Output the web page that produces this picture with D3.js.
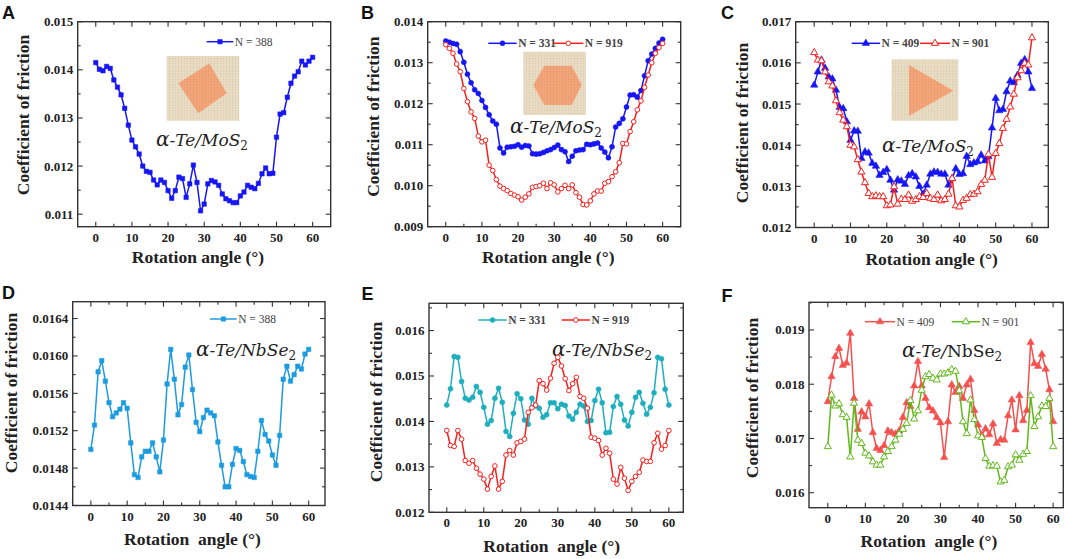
<!DOCTYPE html>
<html>
<head>
<meta charset="utf-8">
<script src="https://cdn.jsdelivr.net/npm/d3@7"></script>
<style>
  body { margin: 0; background: #fff; }
  svg { display: block; }
  .sf { font-family: "Liberation Serif", "Times New Roman", Times, serif; }
</style>
</head>
<body>
<svg id="fig" width="1065" height="559"></svg>
<script>
// rotation angles (deg), shared by every series
const angles = [0,1,2,3,4,5,6,7,8,9,10,11,12,13,14,15,16,17,18,19,20,21,22,23,24,25,26,27,28,29,30,
  31,32,33,34,35,36,37,38,39,40,41,42,43,44,45,46,47,48,49,50,51,52,53,54,55,56,57,58,59,60]

// A: Te/MoS2 square flake
const A_388 = [0.01415,0.01401,0.01398,0.01407,0.01403,0.01379,0.01364,0.01348,0.0132,0.01285,0.01254,
  0.0124,0.01225,0.012,0.01189,0.01187,0.01171,0.01161,0.01171,0.01166,0.01149,0.01133,0.01149,0.01177,
  0.01174,0.01135,0.01163,0.01202,0.01166,0.01107,0.01121,0.01163,0.0117,0.01167,0.0116,0.01142,0.01132,
  0.01128,0.01124,0.01124,0.01138,0.01146,0.0116,0.01156,0.01153,0.01164,0.01184,0.01196,0.01184,0.01185,
  0.0126,0.01308,0.01311,0.01343,0.01372,0.01387,0.01396,0.01418,0.0141,0.01418,0.01426]

// B: hexagon flake
const B_331 = [0.01353,0.0135,0.01347,0.01345,0.01327,0.01301,0.01272,0.01251,0.01234,0.01225,0.01208,
  0.01191,0.01173,0.01158,0.0115,0.01092,0.0108,0.01094,0.01095,0.01096,0.011,0.01094,0.01098,0.01097,
  0.01078,0.01077,0.01078,0.01081,0.01085,0.01088,0.01093,0.01099,0.01088,0.01083,0.01059,0.01072,0.01085,
  0.01087,0.01088,0.01101,0.011,0.01102,0.01104,0.01092,0.01082,0.01068,0.01095,0.01143,0.01152,0.01163,
  0.01192,0.01221,0.01222,0.01216,0.01232,0.01268,0.01305,0.01321,0.01335,0.01348,0.01357]
const B_919 = [0.01344,0.01335,0.01323,0.01297,0.01278,0.01237,0.01205,0.0118,0.01164,0.01121,0.01107,
  0.01111,0.0105,0.01037,0.01015,0.00999,0.00993,0.00988,0.00981,0.00977,0.00973,0.00965,0.00972,0.0098,
  0.00996,0.00998,0.01,0.01006,0.00993,0.01007,0.01002,0.00985,0.00993,0.01001,0.00993,0.01002,0.00983,
  0.00972,0.00954,0.00953,0.00963,0.0098,0.00987,0.00987,0.01006,0.0101,0.01022,0.01034,0.01056,0.01103,
  0.01102,0.01132,0.01156,0.01185,0.01207,0.0124,0.0127,0.013,0.01323,0.01337,0.01347]

// C: triangle flake
const C_409 = [0.01546,0.01578,0.01607,0.01587,0.01566,0.01561,0.01534,0.01492,0.01489,0.01457,0.01412,
  0.01435,0.01434,0.01368,0.01384,0.01381,0.01356,0.01349,0.01327,0.01334,0.01341,0.01315,0.01291,0.01316,
  0.01313,0.01305,0.01326,0.01331,0.01323,0.013,0.01281,0.01303,0.0133,0.01335,0.01334,0.0133,0.0133,
  0.01303,0.01319,0.01343,0.01329,0.01331,0.01373,0.01353,0.01357,0.0136,0.01376,0.01362,0.01372,0.01442,
  0.01514,0.01484,0.01487,0.0153,0.01556,0.01552,0.0157,0.01599,0.01608,0.01578,0.01538]
const C_901 = [0.01625,0.01607,0.01605,0.01578,0.01554,0.01544,0.01508,0.01479,0.01461,0.01445,0.014,
  0.01396,0.01365,0.01335,0.01309,0.01283,0.01275,0.01277,0.01275,0.01275,0.01253,0.01255,0.01299,0.01257,
  0.01269,0.01268,0.01279,0.01264,0.01268,0.01275,0.01273,0.01283,0.01271,0.01268,0.01279,0.01265,0.01268,
  0.01281,0.01319,0.01253,0.0125,0.01266,0.01271,0.0128,0.01281,0.01287,0.01305,0.01315,0.01378,0.01322,
  0.0138,0.01404,0.01441,0.01463,0.01493,0.01524,0.01564,0.01581,0.01599,0.01595,0.01661]

// D: Te/NbSe2 square flake
const D_388 = [0.015,0.01526,0.01583,0.01595,0.01573,0.0155,0.01535,0.01539,0.01543,0.0155,0.01544,
  0.01507,0.01473,0.0147,0.01492,0.01498,0.01498,0.01507,0.01492,0.01476,0.0151,0.0157,0.01607,0.01575,
  0.01537,0.01548,0.01588,0.01601,0.01564,0.01529,0.01519,0.01534,0.01542,0.01539,0.01536,0.01508,0.01483,
  0.0146,0.0146,0.01484,0.01501,0.01499,0.01487,0.01473,0.01471,0.0147,0.01498,0.01531,0.01516,0.01509,
  0.01494,0.01483,0.01515,0.01575,0.01589,0.01573,0.0158,0.01589,0.01586,0.01602,0.01607]

// E: hexagon flake
const E_331 = [0.01436,0.01472,0.01543,0.01541,0.01488,0.01451,0.01447,0.01453,0.01477,0.01464,0.01431,
  0.01394,0.01402,0.01451,0.01473,0.01442,0.01378,0.01367,0.01418,0.01461,0.0145,0.01403,0.01394,0.01451,
  0.01434,0.01429,0.01409,0.01415,0.01441,0.01441,0.01428,0.01438,0.01435,0.01412,0.01405,0.0142,0.01438,
  0.01434,0.014,0.01402,0.01446,0.01471,0.01441,0.01375,0.01376,0.01433,0.01455,0.01438,0.01403,0.0139,
  0.0142,0.01453,0.01464,0.0144,0.01416,0.01431,0.01463,0.01541,0.01538,0.01471,0.01436]
const E_919 = [0.0138,0.01347,0.01345,0.0138,0.01361,0.01314,0.01308,0.01314,0.01297,0.01284,0.01273,
  0.01251,0.01279,0.01302,0.01251,0.01268,0.01326,0.01336,0.01326,0.01353,0.01356,0.01361,0.0142,0.0143,
  0.01436,0.0149,0.01483,0.01469,0.01495,0.01528,0.01541,0.01522,0.01494,0.01468,0.01483,0.01497,0.01455,
  0.01451,0.01429,0.01365,0.01363,0.01358,0.01326,0.01341,0.0133,0.01273,0.01262,0.01299,0.01275,0.01248,
  0.01268,0.01279,0.01288,0.01315,0.01312,0.01312,0.01353,0.01374,0.01339,0.01347,0.0138]

// F: triangle flake
const F_409 = [0.01768,0.01814,0.01851,0.01866,0.01835,0.01839,0.01894,0.01774,0.01717,0.01749,0.0174,
  0.01764,0.01711,0.01682,0.01678,0.01687,0.01714,0.01711,0.01708,0.01714,0.01739,0.01766,0.01759,0.01797,
  0.01842,0.01797,0.01774,0.01757,0.01751,0.01739,0.01729,0.01665,0.01731,0.01799,0.01785,0.01796,0.01774,
  0.01799,0.01809,0.01752,0.01725,0.01706,0.01718,0.01707,0.01727,0.01691,0.01698,0.01697,0.01742,0.01771,
  0.01716,0.01779,0.01733,0.01752,0.01877,0.01838,0.01833,0.01855,0.01828,0.0179,0.01731]
const F_901 = [0.01685,0.0178,0.0176,0.01764,0.01744,0.01739,0.01666,0.01765,0.01697,0.01691,0.01673,
  0.01668,0.01657,0.01651,0.01651,0.01666,0.01676,0.01685,0.01697,0.01708,0.01717,0.01728,0.0177,0.01736,
  0.01751,0.01789,0.01814,0.01818,0.01811,0.01808,0.01819,0.01819,0.01821,0.01827,0.01824,0.01788,0.01731,
  0.01709,0.01771,0.01735,0.01705,0.01702,0.01663,0.01649,0.0165,0.01649,0.0162,0.01623,0.01648,0.01651,
  0.0167,0.0166,0.01671,0.01676,0.01779,0.01722,0.0174,0.0176,0.01759,0.01774,0.01685]

// y tick labels per panel
const ticksA = [0.011,0.012,0.013,0.014,0.015]
const ticksB = [0.009,0.010,0.011,0.012,0.013,0.014]
const ticksC = [0.012,0.013,0.014,0.015,0.016,0.017]
const ticksD = [0.0144,0.0148,0.0152,0.0156,0.0160,0.0164]
const ticksE = [0.012,0.013,0.014,0.015,0.016]
const ticksF = [0.016,0.017,0.018,0.019]
const xTicks = [0,10,20,30,40,50,60]

const BLUE = "#1616f5", RED = "#f5201e", LBLUE = "#1c9be0", CYAN = "#1eaebd", PINK = "#f4504e", GREEN = "#62b81c"

const svg = d3.select("#fig")
const defs = svg.append("defs")

// lattice textures for the insets
const pat1 = defs.append("pattern").attr("id","latBg").attr("width",3).attr("height",2.6).attr("patternUnits","userSpaceOnUse")
pat1.append("rect").attr("width",3).attr("height",2.6).attr("fill","#e9ddc6")
pat1.append("circle").attr("cx",1.5).attr("cy",1.3).attr("r",0.75).attr("fill","#d8c8a6")
const pat2 = defs.append("pattern").attr("id","latFg").attr("width",3).attr("height",2.6).attr("patternUnits","userSpaceOnUse")
pat2.append("rect").attr("width",3).attr("height",2.6).attr("fill","#f2a67a")
pat2.append("circle").attr("cx",1.5).attr("cy",1.3).attr("r",0.75).attr("fill","#ea9569")

function drawPanel(p){
  const g = svg.append("g")
  const x = d3.scaleLinear().domain(p.xd).range([p.l, p.r])
  const y = d3.scaleLinear().domain(p.yd).range([p.b, p.t])

  // inward ticks on all four sides
  const tk = g.append("g").attr("stroke","#333").attr("stroke-width",1.1)
  for (let v = 0; v <= 60; v += 5){
    let len = v % 10 === 0 ? 5 : 3
    tk.append("line").attr("x1",x(v)).attr("x2",x(v)).attr("y1",p.b).attr("y2",p.b-len)
    tk.append("line").attr("x1",x(v)).attr("x2",x(v)).attr("y1",p.t).attr("y2",p.t+len)
  }
  const step = p.ticks[1]-p.ticks[0]
  for (let i = 0; i < p.ticks.length*2+1; i++){
    let v = p.ticks[0] + (i-1)*step/2
    if (v < p.yd[0]-1e-9 || v > p.yd[1]+1e-9) continue
    let len = (i-1) % 2 === 0 ? 5 : 3
    tk.append("line").attr("x1",p.l).attr("x2",p.l+len).attr("y1",y(v)).attr("y2",y(v))
    tk.append("line").attr("x1",p.r).attr("x2",p.r-len).attr("y1",y(v)).attr("y2",y(v))
  }
  g.append("rect").attr("x",p.l).attr("y",p.t).attr("width",p.r-p.l).attr("height",p.b-p.t)
    .attr("fill","none").attr("stroke","#333").attr("stroke-width",1.4)

  // tick labels
  g.append("g").selectAll("text").data(p.ticks).join("text").attr("class","sf")
    .attr("x",p.l-4.5).attr("y",d => y(d)+4.5).attr("text-anchor","end")
    .attr("font-weight","bold").attr("font-size",13).attr("fill","#222")
    .text(d => d3.format(p.fmt)(d))
  g.append("g").selectAll("text").data(xTicks).join("text").attr("class","sf")
    .attr("x",d => x(d)).attr("y",p.b+15).attr("text-anchor","middle")
    .attr("font-weight","bold").attr("font-size",13).attr("fill","#222")
    .text(d => d)

  // axis titles
  g.append("text").attr("class","sf").attr("transform",`translate(${p.ytx},${p.yty}) rotate(-90)`).attr("text-anchor","middle")
    .attr("font-weight","bold").attr("font-size",17.5).attr("fill","#222")
    .text("Coefficient of friction")
  g.append("text").attr("class","sf").attr("x",p.xtx).attr("y",p.xty).attr("text-anchor","middle").attr("xml:space","preserve")
    .attr("font-weight","bold").attr("font-size",17.5).attr("fill","#222")
    .text(p.xtitle)

  // panel letter
  g.append("text").attr("x",p.lx).attr("y",p.ly).attr("font-family","'Liberation Sans',Arial,sans-serif")
    .attr("font-weight","bold").attr("font-size",18).attr("fill","#111").text(p.letter)

  // inset picture
  if (p.inset){
    const s = p.inset
    g.append("rect").attr("x",s.x).attr("y",s.y).attr("width",s.w).attr("height",s.h).attr("fill","url(#latBg)")
    g.append("polygon").attr("points",s.shape.map(q => q.join(",")).join(" ")).attr("fill","url(#latFg)")
  }

  // material label
  const lab = g.append("text").attr("x",p.mx).attr("y",p.my).attr("text-anchor","middle")
    .attr("font-family","'DejaVu Serif',serif").attr("font-size",17).attr("fill","#222")
  lab.append("tspan").attr("font-style","italic").attr("font-size",20).text("α")
  lab.append("tspan").attr("font-style","italic").text(p.upright ? "-Te/" : "-Te/" + p.mat)
  if (p.upright) lab.append("tspan").text(p.mat)
  lab.append("tspan").attr("font-size",12).attr("dy",4).text("2")

  // series
  const line = d3.line().x((d,i) => x(angles[i])).y(d => y(d))
  p.series.forEach(s => {
    g.append("path").datum(s.values).attr("d",line).attr("fill","none")
      .attr("stroke",s.color).attr("stroke-width",1.5)
    const sym = d3.symbol().type(s.symbol).size(s.size)
    g.append("g").selectAll("path").data(s.values).join("path")
      .attr("transform",(d,i) => `translate(${x(angles[i])},${y(d)})`)
      .attr("d",sym)
      .attr("fill",s.open ? "#fff" : s.color).attr("stroke",s.color).attr("stroke-width",s.open ? 1 : 0.5)
    // legend entry
    const L = s.leg
    g.append("line").attr("x1",L.x1).attr("x2",L.x2).attr("y1",L.y).attr("y2",L.y)
      .attr("stroke",s.color).attr("stroke-width",1.5)
    g.append("path").attr("transform",`translate(${(L.x1+L.x2)/2},${L.y})`).attr("d",sym)
      .attr("fill",s.open ? "#fff" : s.color).attr("stroke",s.color).attr("stroke-width",s.open ? 1 : 0.5)
    g.append("text").attr("class","sf").attr("x",L.x2+1.5).attr("y",L.y+3.8)
      .attr("font-size",11.5).attr("fill","#444").attr("font-weight",p.legBold ? "bold" : "normal").text(s.name)
  })
}

const panels = [
  { letter:"A", lx:2, ly:18.5, l:77.7, t:21.7, r:330.7, b:226.7, xd:[-5,65], yd:[0.01074,0.015], ticks:ticksA, fmt:".3f",
    ytx:29, yty:115, xtx:198, xty:263, xtitle:"Rotation angle (°)", mx:202, my:146, mat:"MoS",
    inset:{x:166.7, y:56, w:72.6, h:64.7, shape:[[209.3,63.3],[226.7,93.3],[198.3,113.3],[178.3,83.3]]},
    series:[{name:"N = 388", values:A_388, color:BLUE, symbol:d3.symbolSquare, size:20, leg:{x1:206.7,x2:233.3,y:41.7}}]},
  { letter:"B", lx:361, ly:18.5, l:427.7, t:21.7, r:680.7, b:226.7, xd:[-5,65], yd:[0.009,0.014], ticks:ticksB, fmt:".3f",
    ytx:379, yty:116.7, xtx:548.3, xty:263, xtitle:"Rotation angle (°)", mx:556, my:133, mat:"MoS", legBold:true,
    inset:{x:523.3, y:51.7, w:62.7, h:63.3, shape:[[533.3,85],[544.3,65.7],[571.7,65.7],[581.7,85],[571.7,105],[544.3,105]]},
    series:[{name:"N = 331", values:B_331, color:BLUE, symbol:d3.symbolCircle, size:20, leg:{x1:488.3,x2:516.7,y:43.3}},
            {name:"N = 919", values:B_919, color:RED, symbol:d3.symbolCircle, size:17, open:true, leg:{x1:553.3,x2:583.3,y:43.3}}]},
  { letter:"C", lx:721, ly:18.5, l:795.7, t:21.7, r:1048.3, b:227.5, xd:[-5.1,64.5], yd:[0.012,0.017], ticks:ticksC, fmt:".3f",
    ytx:747.7, yty:123, xtx:931.7, xty:265, xtitle:"Rotation angle (°)", mx:928, my:152, mat:"MoS", legBold:true,
    inset:{x:891.7, y:59.3, w:66.6, h:61.4, shape:[[909,65],[953.3,90.7],[909,116]]},
    series:[{name:"N = 409", values:C_409, color:BLUE, symbol:d3.symbolTriangle, size:24, leg:{x1:851.7,x2:880,y:43.3}},
            {name:"N = 901", values:C_901, color:RED, symbol:d3.symbolTriangle, size:22, open:true, leg:{x1:920,x2:950,y:43.3}}]},
  { letter:"D", lx:2, ly:298.5, l:72.7, t:301.7, r:325, b:505.5, xd:[-5,64.5], yd:[0.0144,0.01658], ticks:ticksD, fmt:".4f",
    ytx:17, yty:393, xtx:192.5, xty:545, xtitle:"Rotation  angle (°)", mx:246, my:356, mat:"NbSe",
    series:[{name:"N = 388", values:D_388, color:LBLUE, symbol:d3.symbolSquare, size:20, leg:{x1:210,x2:236.7,y:319}}]},
  { letter:"E", lx:361.5, ly:300, l:429, t:303.3, r:683.3, b:512.3, xd:[-4.8,63.9], yd:[0.012,0.0166], ticks:ticksE, fmt:".3f",
    ytx:382, yty:402, xtx:551.7, xty:551.5, xtitle:"Rotation  angle (°)", mx:602, my:356, mat:"NbSe", legBold:true,
    series:[{name:"N = 331", values:E_331, color:CYAN, symbol:d3.symbolCircle, size:20, leg:{x1:478.3,x2:506.7,y:320}},
            {name:"N = 919", values:E_919, color:RED, symbol:d3.symbolCircle, size:17, open:true, leg:{x1:561.7,x2:590,y:320}}]},
  { letter:"F", lx:721.5, ly:301.5, l:809, t:302.3, r:1063.3, b:507.7, xd:[-5,62.7], yd:[0.015724,0.01951], ticks:ticksF, fmt:".3f",
    ytx:757.7, yty:398, xtx:929, xty:546.7, xtitle:"Rotation  angle (°)", mx:952, my:357, mat:"NbSe", upright:true,
    series:[{name:"N = 409", values:F_409, color:PINK, symbol:d3.symbolTriangle, size:24, leg:{x1:865,x2:895,y:321.7}},
            {name:"N = 901", values:F_901, color:GREEN, symbol:d3.symbolTriangle, size:22, open:true, leg:{x1:951.7,x2:980,y:321.7}}]}
]

panels.forEach(drawPanel)
</script>
</body>
</html>
